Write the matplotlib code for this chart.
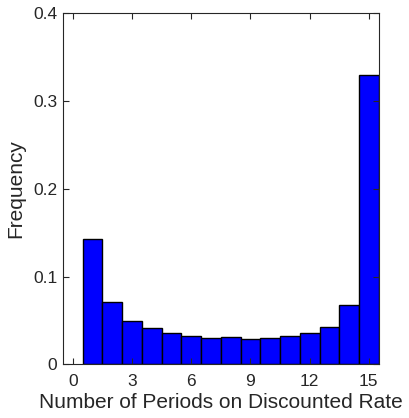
import numpy as np
import matplotlib
matplotlib.use("Agg")
import matplotlib.pyplot as plt

plt.rcParams['font.family'] = ['Liberation Sans', 'DejaVu Sans']

periods = np.arange(1, 16)
freq = [0.143, 0.071, 0.050, 0.042, 0.036, 0.033, 0.030, 0.031,
        0.029, 0.030, 0.032, 0.036, 0.043, 0.068, 0.330]
xticks = [0, 3, 6, 9, 12, 15]
yticks = [0, 0.1, 0.2, 0.3, 0.4]

fig = plt.figure(figsize=(4.09, 4.18), dpi=100)
ax = fig.add_axes([0.154, 0.128, 0.772, 0.840])
ax.bar(periods, freq, width=1.0, color='#0000ff', edgecolor='black', linewidth=1.0)

ax.set_xlim(-0.5, 15.5)
ax.set_ylim(0, 0.4)
ax.set_xticks(xticks)
ax.set_yticks(yticks)
ax.set_yticklabels(['0', '0.1', '0.2', '0.3', '0.4'])

axc = '#262626'
for s in ax.spines.values():
    s.set_color(axc)
    s.set_linewidth(0.8)
ax.tick_params(direction='in', top=True, right=True, length=4, width=0.8,
               colors=axc, labelsize=12.5, labelcolor=axc)
ax.tick_params(axis='x', pad=7)
ax.tick_params(axis='y', pad=4)
ax.set_xlabel('Number of Periods on Discounted Rate', fontsize=15, color=axc, labelpad=3)
ax.set_ylabel('Frequency', fontsize=15, color=axc, labelpad=6)

fig.savefig('out.png', dpi=100)
